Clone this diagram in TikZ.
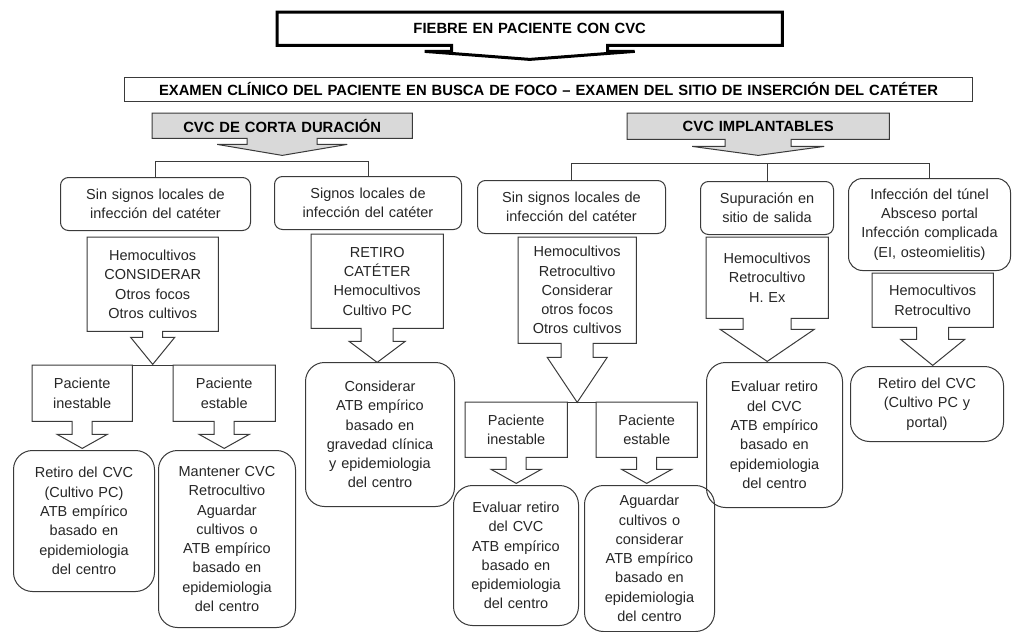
\documentclass[tikz,border=0pt]{standalone}
\usepackage{fontspec}
\setmainfont{Liberation Sans}
\usetikzlibrary{calc,backgrounds}
\definecolor{ln}{HTML}{3A3A3A}
\definecolor{tx}{HTML}{262626}
\definecolor{gr}{HTML}{D9D9D9}
% outline of a box with a downward block arrow: [opts]{node}{shaft hw}{wing hw}{shaft h}{tip depth}
\newcommand{\callshape}[6][]{%
  \draw[#1] (#2.south west) -- ($(#2.south)+(-#3,0)$) -- ++(0,#5) -- ($(#2.south)+(-#4,#5)$)
    -- ($(#2.south)+(0,#5+#6)$) -- ($(#2.south)+(#4,#5)$) -- ($(#2.south)+(#3,#5)$)
    -- ($(#2.south)+(#3,0)$) -- (#2.south east) -- (#2.north east) -- (#2.north west) -- cycle;}
\tikzset{
  base/.style={anchor=north west, inner sep=0pt, align=center, text=tx,
    font=\fontsize{14.5}{19.3}\selectfont},
  sz/.style 2 args={minimum width=#1pt, text width=#1pt, minimum height=#2pt},
  rbox/.style={base, draw=ln, line width=1pt, rounded corners=8pt},
  bigbox/.style={base, draw=ln, line width=1pt, rounded corners=19pt},
  cbox/.style={base},
  ttl/.style={base, font=\bfseries\fontsize{14.8}{17}\selectfont, text=black},
  outl/.style={draw=ln, line width=1pt, line join=miter},
  conn/.style={draw=ln, line width=1pt},
}
\begin{document}
\begin{tikzpicture}[x=1pt,y=-1pt]
\useasboundingbox (0,0) rectangle (1013,632);
\begin{scope}[on background layer]
  \fill[white] (0,0) rectangle (1013,632);
\end{scope}

% ---- top ----
\node[ttl, sz={505}{33}] (title) at (277,12) {FIEBRE EN PACIENTE CON CVC};
\callshape[draw=black, line width=3pt, line join=miter]{title}{78}{105}{6}{8}

\node[ttl, sz={848}{24}, draw=ln, line width=1pt] (exam) at (124,77)
  {EXAMEN CLÍNICO DEL PACIENTE EN BUSCA DE FOCO – EXAMEN DEL SITIO DE INSERCIÓN DEL CATÉTER};

\node[ttl, sz={260}{25}] (corta) at (152,113) {CVC DE CORTA DURACIÓN};
\node[ttl, sz={262}{26}] (impl) at (627,113) {CVC IMPLANTABLES};
\begin{scope}[on background layer]
  \callshape[outl, fill=gr]{corta}{35}{65}{6}{11}
  \callshape[outl, fill=gr]{impl}{33}{66}{7}{9}
\end{scope}

% ---- left branch ----
\coordinate (brL) at (0,161);
\node[rbox, sz={190}{53}] (sinL) at (60,177) {Sin signos locales de\\infección del catéter};
\node[rbox, sz={187}{53}] (sigL) at (274,176) {Signos locales de\\infección del catéter};
\draw[conn] (sinL.north) -- (sinL.north |- brL) -| (sigL.north);

\node[cbox, sz={131}{94}] (hemL) at (87,237) {Hemocultivos\\CONSIDERAR\\Otros focos\\Otros cultivos};
\callshape[outl]{hemL}{10}{22}{6}{27}
\node[cbox, sz={132}{94}] (retC) at (311,234) {RETIRO\\CATÉTER\\Hemocultivos\\Cultivo PC};
\callshape[outl]{retC}{16}{28}{13}{21}

\node[cbox, sz={100}{56}] (pinL) at (32,365) {Paciente\\inestable};
\node[cbox, sz={102}{56}] (pesL) at (173,365) {Paciente\\estable};
\callshape[outl]{pinL}{10}{25}{13}{14}
\callshape[outl]{pesL}{10}{25}{13}{14}
\draw[conn] (pinL.north east) -- (pesL.north west);

\node[bigbox, sz={141}{141}] (retL) at (13,450) {Retiro del CVC\\(Cultivo PC)\\ATB empírico\\basado en\\epidemiologia\\del centro};
\node[bigbox, sz={137}{177}] (manL) at (158,450) {Mantener CVC\\Retrocultivo\\Aguardar\\cultivos o\\ATB empírico\\basado en\\epidemiologia\\del centro};
\node[bigbox, sz={149}{144}] (conL) at (305,362) {Considerar\\ATB empírico\\basado en\\gravedad clínica\\y epidemiologia\\del centro};

% ---- right branch ----
\coordinate (brR) at (0,163);
\node[rbox, sz={188}{53}] (sinR) at (477,180) {Sin signos locales de\\infección del catéter};
\node[rbox, sz={133}{53}] (supR) at (700,181) {Supuración en\\sitio de salida};
\node[rbox, sz={162}{92}, rounded corners=14pt] (infR) at (848,178) {Infección del túnel\\Absceso portal\\Infección complicada\\(EI, osteomielitis)};
\draw[conn] (sinR.north) -- (sinR.north |- brR) -| (infR.north);
\draw[conn] (supR.north) -- (supR.north |- brR);

\node[cbox, sz={118}{106}] (hemR) at (518,237) {Hemocultivos\\Retrocultivo\\Considerar\\otros focos\\Otros cultivos};
\callshape[outl]{hemR}{16}{30}{14}{45}
\node[cbox, sz={122}{81}] (hsup) at (706,237) {Hemocultivos\\Retrocultivo\\H. Ex};
\callshape[outl]{hsup}{24}{47}{11}{32}
\node[cbox, sz={121}{54}] (hinf) at (872,273) {Hemocultivos\\Retrocultivo};
\callshape[outl]{hinf}{16}{32}{12}{26}

\node[bigbox, sz={136}{145}] (evS) at (706,362) {Evaluar retiro\\del CVC\\ATB empírico\\basado en\\epidemiologia\\del centro};
\node[bigbox, sz={153}{75}] (retR) at (850,366) {Retiro del CVC\\(Cultivo PC y\\portal)};

\node[cbox, sz={102}{55}] (pinR) at (465,402) {Paciente\\inestable};
\node[cbox, sz={101}{55}] (pesR) at (596,402) {Paciente\\estable};
\callshape[outl]{pinR}{10}{25}{12}{14}
\callshape[outl]{pesR}{10}{25}{12}{14}
\draw[conn] (pinR.north east) -- (pesR.north west);

\node[bigbox, sz={125}{140}] (evR) at (453,485) {Evaluar retiro\\del CVC\\ATB empírico\\basado en\\epidemiologia\\del centro};
\node[bigbox, sz={130}{146}] (agR) at (584,485) {Aguardar\\cultivos o\\considerar\\ATB empírico\\basado en\\epidemiologia\\del centro};
\end{tikzpicture}
\end{document}
